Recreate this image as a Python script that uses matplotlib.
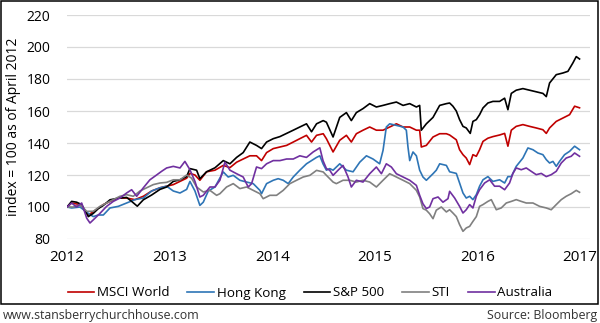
import matplotlib
matplotlib.use("Agg")
import matplotlib.pyplot as plt
from matplotlib.patches import Rectangle

plt.rcParams["font.family"] = ["Open Sans", "DejaVu Sans"]

# x positions are in "label years" (2012 label = start of data, April 2012)
msci_x = [2012.00, 2012.045, 2012.127, 2012.208, 2012.256, 2012.354, 2012.419, 2012.500, 2012.581, 2012.662,
          2012.744, 2012.825, 2012.906, 2012.971, 2013.036, 2013.101, 2013.166, 2013.198, 2013.247, 2013.295,
          2013.360, 2013.442, 2013.523, 2013.588, 2013.653, 2013.717, 2013.782, 2013.847, 2013.896, 2013.945,
          2014.010, 2014.075, 2014.140, 2014.205, 2014.269, 2014.334, 2014.383, 2014.432, 2014.497, 2014.528,
          2014.593, 2014.658, 2014.723, 2014.771, 2014.820, 2014.885, 2014.950, 2015.015, 2015.080, 2015.145,
          2015.210, 2015.275, 2015.340, 2015.405, 2015.437, 2015.453, 2015.502, 2015.567, 2015.632, 2015.697,
          2015.729, 2015.794, 2015.826, 2015.859, 2015.891, 2015.924, 2015.956, 2015.989, 2016.021, 2016.054,
          2016.102, 2016.151, 2016.216, 2016.265, 2016.297, 2016.330, 2016.378, 2016.443, 2016.508, 2016.573,
          2016.638, 2016.671, 2016.703, 2016.768, 2016.833, 2016.898, 2016.947, 2016.995]
msci_y = [100, 102.5, 101.5, 95, 97, 101.5, 103.5, 105.6, 105.6, 104.6,
          106.7, 110, 112, 113, 114, 116, 118, 121, 120, 116.7,
          122, 123, 126, 124.6, 128, 130, 132, 132, 129, 134,
          136.5, 137.5, 138.5, 140.6, 142.7, 144.8, 140.6, 144.8, 145.8, 142.7,
          134.4, 141.7, 144.8, 140.6, 145.8, 148, 150, 148, 148, 150,
          152, 150, 150, 148, 148, 137.5, 138.5, 143.75, 145.8, 145.8,
          145, 142, 135.8, 132.7, 130.6, 126.5, 132.7, 131.7, 135.8, 141,
          143, 144, 145, 146, 138, 148, 150.4, 151.5, 150.4, 149.4,
          148.3, 146, 149.4, 153.5, 155.6, 157.7, 163, 162]

hk_x = [2012.00, 2012.045, 2012.127, 2012.208, 2012.256, 2012.305, 2012.354, 2012.419, 2012.500, 2012.581,
        2012.662, 2012.744, 2012.825, 2012.906, 2012.971, 2013.036, 2013.101, 2013.166, 2013.198, 2013.247,
        2013.295, 2013.328, 2013.377, 2013.442, 2013.523, 2013.571, 2013.620, 2013.685, 2013.750, 2013.815,
        2013.880, 2013.896, 2013.945, 2014.010, 2014.058, 2014.107, 2014.156, 2014.205, 2014.269, 2014.334,
        2014.383, 2014.432, 2014.464, 2014.495, 2014.528, 2014.560, 2014.593, 2014.658, 2014.723, 2014.788,
        2014.853, 2014.918, 2014.982, 2015.047, 2015.080, 2015.112, 2015.145, 2015.210, 2015.275, 2015.307,
        2015.323, 2015.340, 2015.372, 2015.405, 2015.437, 2015.469, 2015.502, 2015.567, 2015.599, 2015.632,
        2015.697, 2015.729, 2015.794, 2015.826, 2015.859, 2015.891, 2015.924, 2015.956, 2015.989, 2016.021,
        2016.054, 2016.102, 2016.151, 2016.216, 2016.265, 2016.297, 2016.330, 2016.378, 2016.443, 2016.492,
        2016.541, 2016.589, 2016.638, 2016.671, 2016.703, 2016.736, 2016.768, 2016.800, 2016.849, 2016.898,
        2016.947, 2016.995]
hk_y = [100, 99.4, 100, 96, 94, 95, 95, 99.4, 100.4, 102.5,
        104.6, 105.6, 110, 112, 113, 110, 108.75, 111, 116, 110,
        101, 103, 110, 112.5, 121.9, 118.75, 119.8, 116.7, 115.6, 114.6,
        110.4, 108.3, 114.6, 116.7, 117.7, 116.7, 114.6, 118.75, 123, 127,
        129, 131, 132, 127, 123, 124, 123, 127, 123, 122,
        128, 132, 130, 127, 135.4, 150, 152, 151, 150, 148,
        137.5, 129, 134.4, 132, 123, 118.75, 116.7, 120.8, 123, 127,
        126, 122, 121, 115, 108.75, 105.6, 106.7, 104.6, 107.7, 113,
        117, 119, 116, 117, 115, 119, 119, 125.4, 130.6, 136.9,
        135.8, 133.75, 132.7, 129.6, 127.5, 128.5, 125.4, 128.5, 132.7, 134.8,
        138, 135.8]

sp_x = [2012.00, 2012.045, 2012.094, 2012.143, 2012.208, 2012.256, 2012.305, 2012.354, 2012.419, 2012.500,
        2012.581, 2012.630, 2012.685, 2012.744, 2012.825, 2012.906, 2012.971, 2013.036, 2013.101, 2013.166,
        2013.198, 2013.263, 2013.295, 2013.360, 2013.442, 2013.523, 2013.588, 2013.653, 2013.717, 2013.782,
        2013.847, 2013.896, 2013.945, 2014.010, 2014.075, 2014.140, 2014.205, 2014.269, 2014.334, 2014.383,
        2014.432, 2014.497, 2014.528, 2014.593, 2014.658, 2014.723, 2014.771, 2014.820, 2014.885, 2014.950,
        2015.015, 2015.080, 2015.145, 2015.210, 2015.275, 2015.340, 2015.405, 2015.437, 2015.453, 2015.502,
        2015.567, 2015.632, 2015.697, 2015.729, 2015.761, 2015.794, 2015.826, 2015.859, 2015.891, 2015.930,
        2015.956, 2015.989, 2016.021, 2016.054, 2016.102, 2016.151, 2016.216, 2016.265, 2016.297, 2016.330,
        2016.378, 2016.443, 2016.508, 2016.573, 2016.638, 2016.671, 2016.703, 2016.768, 2016.833, 2016.882,
        2016.930, 2016.963, 2016.995]
sp_y = [100, 103.5, 103, 101.5, 94, 96, 99, 101, 104.5, 105.5,
        106, 103.5, 100.5, 104.5, 107.5, 111, 112.5, 116, 117, 119,
        124, 123, 117.7, 122, 124.5, 129, 127, 131, 134, 140.6,
        138.5, 136.5, 140.6, 142.7, 144, 146, 148, 150, 152, 147,
        152, 154, 153, 143.75, 156, 159, 154, 159, 161.5, 164.6,
        162.5, 163.5, 164.6, 165.6, 163.5, 164.6, 162.5, 163.5, 148, 152,
        156, 163.5, 164.6, 165, 163, 160, 154.6, 150.4, 149.4, 146,
        153.5, 154.6, 157.7, 161.9, 165, 166, 166, 168, 160.8, 171,
        173, 174, 173, 172, 171, 169, 177.5, 182.7, 183.75, 184.8,
        190, 194, 192.5]

sti_x = [2012.00, 2012.062, 2012.127, 2012.192, 2012.256, 2012.321, 2012.386, 2012.451, 2012.516, 2012.581,
         2012.646, 2012.711, 2012.776, 2012.841, 2012.906, 2012.971, 2013.036, 2013.101, 2013.166, 2013.214,
         2013.263, 2013.328, 2013.393, 2013.458, 2013.490, 2013.555, 2013.620, 2013.685, 2013.750, 2013.815,
         2013.880, 2013.912, 2013.977, 2014.042, 2014.107, 2014.172, 2014.237, 2014.302, 2014.367, 2014.432,
         2014.497, 2014.528, 2014.593, 2014.625, 2014.690, 2014.755, 2014.820, 2014.885, 2014.950, 2015.015,
         2015.080, 2015.145, 2015.210, 2015.275, 2015.340, 2015.405, 2015.437, 2015.469, 2015.502, 2015.534,
         2015.567, 2015.599, 2015.648, 2015.697, 2015.729, 2015.761, 2015.794, 2015.826, 2015.859, 2015.891,
         2015.924, 2015.956, 2015.989, 2016.021, 2016.054, 2016.102, 2016.135, 2016.184, 2016.232, 2016.281,
         2016.330, 2016.378, 2016.427, 2016.476, 2016.541, 2016.606, 2016.671, 2016.719, 2016.768, 2016.817,
         2016.865, 2016.914, 2016.963, 2016.995]
sti_y = [100, 100, 101.5, 97.3, 97.3, 100.4, 102.5, 104.6, 106.7, 107.7,
         106.7, 110, 112, 114, 115, 115.4, 117, 117, 120, 118,
         112.5, 109.4, 110.4, 107.3, 108.3, 112.5, 114.6, 111.5, 112.5, 110.4,
         108.3, 105.2, 107.3, 107.3, 110.4, 114.6, 116.7, 118.75, 119.8, 122.9,
         121.9, 119.8, 115.6, 114.6, 116.7, 116.7, 115.6, 116.7, 115.6, 112.5,
         116.7, 120.8, 118.75, 116.7, 114.6, 110.4, 106.25, 99, 98, 95.8,
         92.7, 98, 100, 96.9, 98.3, 96.25, 94, 89, 84.8, 86.9,
         87.9, 91, 94, 100.4, 101.5, 103.5, 104.6, 98.3, 99.4, 102.5,
         103.5, 104.6, 103.5, 102.5, 102.5, 100.4, 99.4, 98.3, 101.5, 104.6,
         106.7, 108.3, 110.4, 109.2]

aus_x = [2012.00, 2012.045, 2012.094, 2012.143, 2012.192, 2012.224, 2012.273, 2012.321, 2012.386, 2012.451,
         2012.516, 2012.581, 2012.630, 2012.679, 2012.744, 2012.808, 2012.873, 2012.922, 2012.971, 2013.036,
         2013.101, 2013.149, 2013.198, 2013.247, 2013.295, 2013.328, 2013.393, 2013.442, 2013.490, 2013.539,
         2013.588, 2013.653, 2013.717, 2013.766, 2013.799, 2013.847, 2013.896, 2013.945, 2014.010, 2014.075,
         2014.140, 2014.205, 2014.269, 2014.334, 2014.399, 2014.464, 2014.495, 2014.528, 2014.560, 2014.593,
         2014.642, 2014.690, 2014.739, 2014.771, 2014.820, 2014.885, 2014.950, 2015.015, 2015.064, 2015.112,
         2015.161, 2015.210, 2015.275, 2015.340, 2015.405, 2015.437, 2015.469, 2015.502, 2015.534, 2015.567,
         2015.616, 2015.664, 2015.713, 2015.729, 2015.778, 2015.826, 2015.859, 2015.891, 2015.924, 2015.956,
         2015.989, 2016.021, 2016.070, 2016.119, 2016.167, 2016.216, 2016.265, 2016.313, 2016.346, 2016.378,
         2016.427, 2016.476, 2016.524, 2016.573, 2016.622, 2016.671, 2016.719, 2016.768, 2016.817, 2016.865,
         2016.914, 2016.947, 2016.995]
aus_y = [100, 102.5, 100, 102.5, 93, 90, 93, 96, 100.4, 103.5,
         105.6, 108.75, 110.8, 106.7, 112, 117, 120, 122.3, 124.4, 125.4,
         124.4, 128.5, 123.3, 116, 106.25, 107.3, 112.5, 112.5, 116.7, 128,
         123, 120.8, 118.75, 112.5, 114.6, 125, 124, 127, 129, 129,
         130, 130, 132, 131, 134.4, 137, 129, 124, 123, 119.8,
         123, 126, 118.75, 112.5, 116.7, 115.6, 120.8, 125, 120.8, 127,
         125, 120.8, 118.75, 116.7, 113.5, 107.3, 102, 99, 100, 105.2,
         106.25, 103, 105.2, 109.8, 105.6, 100.4, 96.25, 98.3, 101.5, 99.4,
         106.7, 110.8, 115, 117, 113, 113, 110.8, 115, 121, 124.4,
         123.3, 124.4, 122.3, 120.2, 121, 119, 120.2, 122.3, 127.5, 130.6,
         131.7, 133.75, 131.7]

year_ticks = [2012, 2013, 2014, 2015, 2016, 2017]
value_ticks = [80, 100, 120, 140, 160, 180, 200, 220]

fig = plt.figure(figsize=(6.0, 3.23), dpi=100)
ax = fig.add_axes([67 / 600, 1 - 239 / 323, 523 / 600, 224 / 323])

series = [
    (msci_x, msci_y, "#c00000", "MSCI World"),
    (hk_x, hk_y, "#2e75b6", "Hong Kong"),
    (sp_x, sp_y, "#000000", "S&P 500"),
    (sti_x, sti_y, "#808080", "STI"),
    (aus_x, aus_y, "#7030a0", "Australia"),
]
for xs, ys, col, name in series:
    ax.plot(xs, ys, color=col, lw=1.2, label=name)

ax.set_xlim(2012, 2017.097)
ax.set_ylim(80, 220)
ax.set_xticks(year_ticks)
ax.set_xticklabels([str(y) for y in year_ticks], fontsize=11)
ax.set_yticks(value_ticks)
ax.tick_params(axis="y", length=0, pad=12, labelsize=10)
ax.tick_params(axis="x", length=0, pad=8)
ax.grid(axis="y", color="#d9d9d9", lw=0.9)
ax.set_axisbelow(True)
for s in ax.spines.values():
    s.set_visible(False)
ax.set_ylabel("index = 100 as of April 2012", fontsize=10)
ax.yaxis.set_label_coords(-46 / 523, 0.5)

fig.legend(loc="center", bbox_to_anchor=(310 / 600, 1 - 293 / 323), ncol=5, frameon=False,
           fontsize=9.6, handlelength=2.0, handletextpad=0.2, columnspacing=1.35)

fig.patches.append(Rectangle((0.5 / 600, 1 - 304 / 323), 597.5 / 600, 303.5 / 323,
                             transform=fig.transFigure, fill=False, ec="black", lw=1.1))
fig.text(3 / 600, 1 - 315 / 323, "www.stansberrychurchhouse.com", fontsize=8.9,
         color="#333333", ha="left", va="center")
fig.text(597 / 600, 1 - 315 / 323, "Source: Bloomberg", fontsize=8.9,
         color="#333333", ha="right", va="center")

fig.savefig("out.png", dpi=100)
